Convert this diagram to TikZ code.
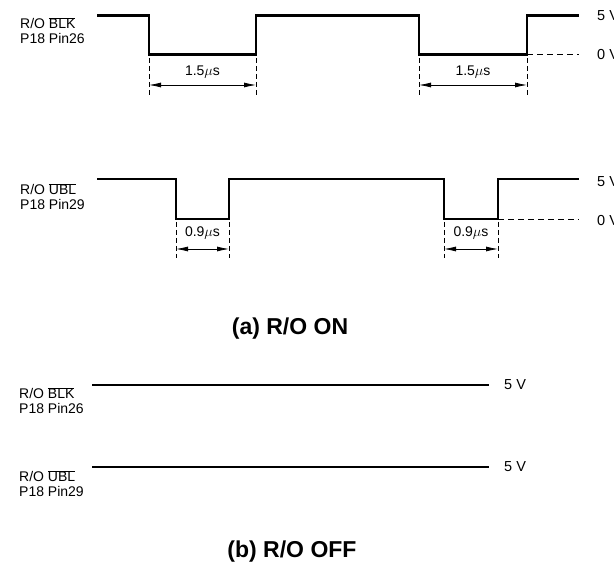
\documentclass[tikz,border=0pt]{standalone}
\usepackage{fontspec}
\setmainfont{Liberation Sans}
\usetikzlibrary{arrows.meta,positioning}
\def\ovl#1{$\overline{\hbox{#1}}$}

\begin{document}
\begin{tikzpicture}[x=1pt,y=-1pt,
    wave/.style={line width=2.2pt,line join=miter},
    zero/.style={line width=0.8pt,dash pattern=on 6pt off 4pt},
    dimline/.style={line width=0.8pt,dash pattern=on 5pt off 3pt},
    dimarrow/.style={line width=0.8pt,{Latex[length=12pt,width=5pt]}-{Latex[length=12pt,width=5pt]}},
    sig/.style={align=left,anchor=north west,inner sep=0pt,font=\fontsize{14}{15}\selectfont},
    volt/.style={anchor=west,inner sep=0pt,font=\fontsize{14.5}{16}\selectfont},
    tlabel/.style={inner sep=0pt,font=\fontsize{14}{16}\selectfont},
    title/.style={inner sep=0pt,font=\fontsize{23}{26}\bfseries\selectfont}]
  \useasboundingbox (0,0) rectangle (614,577);
  % (a) R/O ON
  \node[sig] (blka) at (20,17) {R/O \ovl{BLK}\\P18 Pin26};
  \draw[wave] (97,15.5)--(149,15.5)--(149,54.5)--(256,54.5)--(256,15.5)
     --(419,15.5)--(419,54.5)--(527,54.5)--(527,15.5)--(579,15.5);
  \draw[zero] (527,54.5)--(579,54.5);
  \node[volt] (hia) at (597,15.5) {5 V};
  \node[volt] (loa) at (597,55) {0 V};
  \draw[dimline] (149,58)--(149,95);
  \draw[dimline] (256,58)--(256,95);
  \draw[dimarrow] (149,85)--(256,85);
  \node[tlabel] (t1) at (202.5,72) {1.5$\mu$s};
  \draw[dimline] (419,58)--(419,95);
  \draw[dimline] (527,58)--(527,95);
  \draw[dimarrow] (419,85)--(527,85);
  \node[tlabel] (t2) at (473,72) {1.5$\mu$s};

  \node[sig] (ubla) at (20,183) {R/O \ovl{UBL}\\P18 Pin29};
  \draw[wave] (97,179)--(176,179)--(176,219)--(229,219)--(229,179)
     --(444,179)--(444,219)--(498,219)--(498,179)--(579,179);
  \draw[zero] (498,219)--(579,219);
  \node[volt] (hib) at (597,182) {5 V};
  \node[volt] (lob) at (597,221) {0 V};
  \draw[dimline] (176,222)--(176,258);
  \draw[dimline] (229,222)--(229,258);
  \draw[dimarrow] (176,249)--(229,249);
  \node[tlabel] (t3) at (202.5,233) {0.9$\mu$s};
  \draw[dimline] (444,222)--(444,258);
  \draw[dimline] (498,222)--(498,258);
  \draw[dimarrow] (444,249)--(498,249);
  \node[tlabel] (t4) at (471,233) {0.9$\mu$s};

  \node[title] (on) at (290,329) {(a) R/O ON};

  % (b) R/O OFF
  \node[sig] (blkb) at (19,387) {R/O \ovl{BLK}\\P18 Pin26};
  \draw[wave] (92,385)--(489,385);
  \node[volt] (hic) at (504,385) {5 V};
  \node[sig] (ublb) at (19,470) {R/O \ovl{UBL}\\P18 Pin29};
  \draw[wave] (92,467)--(489,467);
  \node[volt] (hid) at (504,467) {5 V};

  \node[title] (off) at (292,552) {(b) R/O OFF};
\end{tikzpicture}
\end{document}
